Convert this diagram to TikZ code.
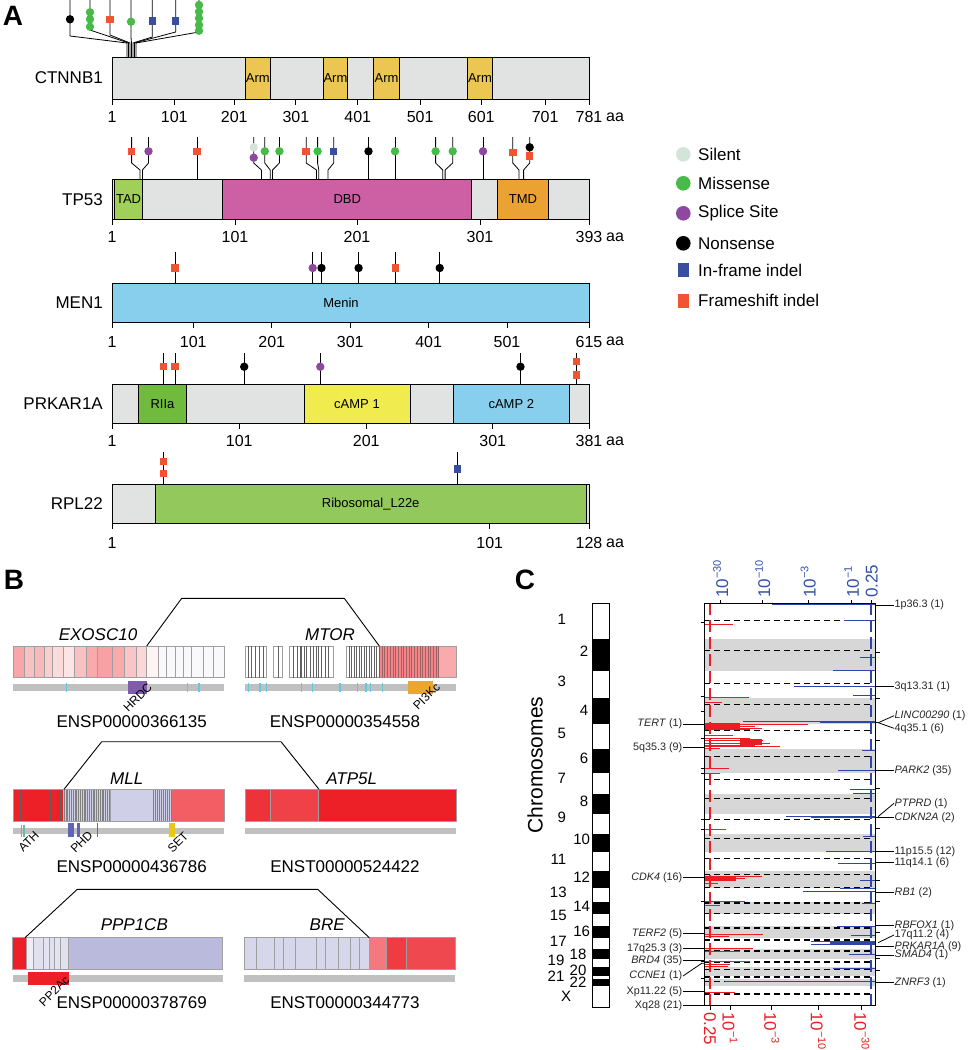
\documentclass[tikz,border=0pt]{standalone}
\usepackage{fontspec}
\setmainfont{Liberation Sans}
\usetikzlibrary{positioning}

\newcommand{\panfont}{\fontsize{28pt}{30pt}\selectfont\bfseries}
\newcommand{\labfont}{\fontsize{17pt}{19pt}\selectfont}
\newcommand{\numfont}{\fontsize{16pt}{18pt}\selectfont}
\newcommand{\domfont}{\fontsize{13pt}{15pt}\selectfont}
\newcommand{\rotfont}{\fontsize{12pt}{14pt}\selectfont}
\newcommand{\cfont}{\fontsize{10.8pt}{12pt}\selectfont}
\newcommand{\chrfont}{\fontsize{15pt}{17pt}\selectfont}
\newcommand{\axfont}{\fontsize{17pt}{19pt}\selectfont}
\newcommand{\pw}[1]{10\raisebox{0.42em}{\fontsize{11pt}{12pt}\selectfont #1}}

\begin{document}
\begin{tikzpicture}[x=1pt,y=-1pt,
  barline/.style={draw=black, line width=0.9pt},
  tickline/.style={black, line width=0.9pt},
  stemline/.style={black, line width=0.8pt},
  genelab/.style={font=\labfont, anchor=east, inner sep=1pt},
  numlab/.style={font=\numfont, inner sep=0pt},
  domlab/.style={font=\domfont, inner sep=0pt},
  dot/.style={circle, inner sep=0pt, minimum size=8.4pt},
  sq/.style={rectangle, inner sep=0pt, minimum width=7.5pt, minimum height=7.5pt},
  silentm/.style={dot, fill=silentc},
  missm/.style={dot, fill=missc},
  splicem/.style={dot, fill=splicec},
  nonsm/.style={dot, fill=black},
  inframe/.style={sq, fill=inframec},
  frameshift/.style={sq, fill=fsc},
  legtext/.style={font=\labfont, anchor=west, inner sep=0pt},
  exbox/.style={draw=gray!75, line width=0.6pt},
  exline/.style={gray!75!black, line width=0.45pt},
  fusion/.style={black, line width=0.9pt},
  isolab/.style={font=\labfont, inner sep=0pt},
  rotlab/.style={font=\rotfont, rotate=45, anchor=east, inner sep=0pt},
  cutdash/.style={black, line width=1.4pt, dash pattern=on 6pt off 4pt},
  ampline/.style={ampred, line width=0.9pt},
  delline/.style={delblue, line width=0.9pt},
  clab/.style={font=\cfont, text=black!85, inner sep=0.5pt},
  conn/.style={black, line width=0.8pt},
  toplab/.style={font=\axfont, text=axblue, rotate=90, anchor=west, inner sep=0pt},
  botlab/.style={font=\axfont, text=ampred, rotate=-90, anchor=west, inner sep=0pt}]

% Define colors
\definecolor{protgray}{RGB}{225,226,226}
\definecolor{armc}{RGB}{236,198,82}
\definecolor{tadc}{RGB}{160,207,90}
\definecolor{dbdc}{RGB}{205,95,165}
\definecolor{tmdc}{RGB}{234,162,50}
\definecolor{meninc}{RGB}{135,207,236}
\definecolor{riiac}{RGB}{112,186,62}
\definecolor{campyc}{RGB}{240,236,80}
\definecolor{ribc}{RGB}{146,200,92}
\definecolor{silentc}{RGB}{212,228,218}
\definecolor{missc}{RGB}{72,186,74}
\definecolor{splicec}{RGB}{142,72,160}
\definecolor{inframec}{RGB}{58,78,160}
\definecolor{fsc}{RGB}{240,84,48}
\definecolor{exred}{RGB}{237,32,40}
\definecolor{lav}{RGB}{186,186,220}
\definecolor{lavlt}{RGB}{215,215,235}
\definecolor{domgray}{RGB}{192,192,192}
\definecolor{cyanc}{RGB}{100,200,222}
\definecolor{hrdcc}{RGB}{128,92,172}
\definecolor{pikc}{RGB}{235,165,50}
\definecolor{athc}{RGB}{100,190,160}
\definecolor{phdc}{RGB}{100,100,182}
\definecolor{setc}{RGB}{232,200,30}
\definecolor{axblue}{RGB}{50,80,170}
\definecolor{delblue}{RGB}{45,70,170}
\definecolor{ampred}{RGB}{237,28,36}
\definecolor{bandgray}{RGB}{215,215,215}

\useasboundingbox (0,0) rectangle (967,1050);

% Panel letters
\node[font=\panfont] (pa) at (13,16) {A};
\node[font=\panfont] (pb) at (14,580) {B};
\node[font=\panfont] (pc) at (525,580) {C};

%%%%%%%%%%%%%%%% A %%%%%%%%%%%%%%%%

% CTNNB1
\fill[protgray] (112,57.3) rectangle (589,99);
\foreach \a/\b in {245.3/270.2, 323.4/347.5, 373.9/399.2, 467.7/492.2} {
  \draw[barline, fill=armc] (\a,57.3) rectangle (\b,99);
  \node[domlab] at ({(\a+\b)/2},78) {Arm};
}
\draw[barline] (112,57.3) rectangle (589,99);
\node[genelab] (ctnnb) at (104,78) {CTNNB1};
\foreach \t/\l in {112/1, 174.3/101, 234.3/201, 295.9/301, 357.8/401, 420.1/501, 481.3/601, 545.1/701, 589/781} {
  \draw[tickline] (\t,99) -- (\t,104.5);
  \node[numlab] at (\t,117) {\l};
}
\node[numlab, anchor=west] at (606,117) {aa};
\foreach \xm/\yb/\xc in {70/36/127, 90/30/128.5, 110/35/130, 131/37/131.5, 152.3/37/133, 175.7/32/134.5, 199/32/136}
  \draw[stemline] (\xm,0) -- (\xm,\yb) -- (\xc,43) -- (\xc,57.3);
\node[nonsm] at (70,19.3) {};
\foreach \y in {12.3,19.3,26.7} \node[missm] at (90,\y) {};
\node[frameshift] at (110,19.3) {};
\node[missm] at (131,21.7) {};
\node[inframe] at (152.3,21) {};
\node[inframe] at (175.7,21) {};
\foreach \y in {5,11.7,18.3,25,30.7} \node[missm] at (199,\y) {};

% TP53
\fill[protgray] (112,179.3) rectangle (589,219);
\draw[barline, fill=tadc] (114.8,179.3) rectangle (142.4,219);
\draw[barline, fill=dbdc] (222.7,179.3) rectangle (471.9,219);
\draw[barline, fill=tmdc] (497.5,179.3) rectangle (548.4,219);
\draw[barline] (112,179.3) rectangle (589,219);
\node[domlab] at (128.6,199.3) {TAD};
\node[domlab] at (347.3,199.3) {DBD};
\node[domlab] at (523,199.3) {TMD};
\node[genelab] (tp53) at (104,199.3) {TP53};
\foreach \t/\l in {112/1, 235/101, 357/201, 480/301, 589/393} {
  \draw[tickline] (\t,219) -- (\t,224.5);
  \node[numlab] at (\t,237) {\l};
}
\node[numlab, anchor=west] at (606,237) {aa};
\foreach \xm in {197,368.5,395,483} \draw[stemline] (\xm,137) -- (\xm,179.3);
\foreach \xm/\xc in {131.6/140, 148.5/142.4, 253.7/261.4, 264.8/270.2, 279.4/272.5, 306.2/316.5, 317.6/318.8, 333.7/328, 435.6/442.8, 452.7/445.1, 512.8/519, 529.7/523.6}
  \draw[stemline] (\xm,137) -- (\xm,163) -- (\xc,170) -- (\xc,179.3);
\node[frameshift] at (131.6,151.3) {};
\node[splicem] at (148.5,151.3) {};
\node[frameshift] at (197,151.3) {};
\node[silentm] at (253.7,147.3) {};
\node[splicem] at (253.7,157.7) {};
\node[missm] at (264.8,151.3) {};
\node[missm] at (279.4,151.3) {};
\node[frameshift] at (306.2,151.3) {};
\node[missm] at (317.6,151.3) {};
\node[inframe] at (333.7,151.3) {};
\node[nonsm] at (368.5,151.3) {};
\node[missm] at (395,151.3) {};
\node[missm] at (435.6,151.3) {};
\node[missm] at (452.7,151.3) {};
\node[splicem] at (483,151.3) {};
\node[frameshift] at (512.8,152.3) {};
\node[nonsm] at (529.7,147.3) {};
\node[frameshift] at (529.7,156) {};

% MEN1
\draw[barline, fill=meninc] (112,283.3) rectangle (589,322.5);
\node[domlab] at (341,303) {Menin};
\node[genelab] (men1) at (104,303) {MEN1};
\foreach \t/\l in {112/1, 193.3/101, 271.7/201, 350.2/301, 428.6/401, 507/501, 589/615} {
  \draw[tickline] (\t,322.5) -- (\t,328);
  \node[numlab] at (\t,341.5) {\l};
}
\node[numlab, anchor=west] at (606,341.5) {aa};
\foreach \xm in {175,312.7,321.5,358.6,395.3,439.7} \draw[stemline] (\xm,251.7) -- (\xm,283.3);
\node[frameshift] at (175,268) {};
\node[splicem] at (312.7,268) {};
\node[nonsm] at (321.5,268) {};
\node[nonsm] at (358.6,268) {};
\node[frameshift] at (395.3,268) {};
\node[nonsm] at (439.7,268) {};

% PRKAR1A
\fill[protgray] (112,384.3) rectangle (589,423);
\draw[barline, fill=riiac] (138.5,384.3) rectangle (186.4,423);
\draw[barline, fill=campyc] (304.2,384.3) rectangle (410.3,423);
\draw[barline, fill=meninc] (453.5,384.3) rectangle (569.1,423);
\draw[barline] (112,384.3) rectangle (589,423);
\node[domlab] at (162.5,403.6) {RIIa};
\node[domlab] at (357,403.6) {cAMP 1};
\node[domlab] at (511.3,403.6) {cAMP 2};
\node[genelab] (prkar) at (104,403.6) {PRKAR1A};
\foreach \t/\l in {112/1, 239.3/101, 366.2/201, 492.7/301, 589/381} {
  \draw[tickline] (\t,423) -- (\t,428.5);
  \node[numlab] at (\t,441) {\l};
}
\node[numlab, anchor=west] at (606,441) {aa};
\foreach \xm in {163.4,175,244.2,320.3,520.5,576.7} \draw[stemline] (\xm,353) -- (\xm,384.3);
\node[frameshift] at (163.4,366.7) {};
\node[frameshift] at (175,366.7) {};
\node[nonsm] at (244.2,366.7) {};
\node[splicem] at (320.3,366.7) {};
\node[nonsm] at (520.5,366.7) {};
\node[frameshift] at (576.7,361.7) {};
\node[frameshift] at (576.7,375) {};

% RPL22
\fill[protgray] (112,484.3) rectangle (589,523.5);
\draw[barline, fill=ribc] (155,484.3) rectangle (586.4,523.5);
\draw[barline] (112,484.3) rectangle (589,523.5);
\node[domlab] at (370.7,504) {Ribosomal\_L22e};
\node[genelab] (rpl22) at (104,504) {RPL22};
\foreach \t/\l in {112/1, 489.7/101, 589/128} {
  \draw[tickline] (\t,523.5) -- (\t,529);
  \node[numlab] at (\t,543) {\l};
}
\node[numlab, anchor=west] at (606,543) {aa};
\foreach \xm in {163.4,457.7} \draw[stemline] (\xm,451.7) -- (\xm,484.3);
\node[frameshift] at (163.4,461.7) {};
\node[frameshift] at (163.4,473.3) {};
\node[inframe] at (457.7,469) {};

% Legend
\foreach \c/\y/\t in {silentc/154.3/Silent, missc/183.3/Missense, splicec/213.3/Splice Site, black/243.3/Nonsense} {
  \node[circle, fill=\c, inner sep=0pt, minimum size=14.6pt] at (683.3,\y) {};
  \node[legtext] at (698,\y) {\t};
}
\foreach \c/\y/\t in {inframec/270/In-frame indel, fsc/300.7/Frameshift indel} {
  \node[rectangle, fill=\c, inner sep=0pt, minimum width=10.7pt, minimum height=14pt] at (683.3,\y) {};
  \node[legtext] at (698,\y) {\t};
}

%%%%%%%%%%%%%%%% B %%%%%%%%%%%%%%%%

% EXOSC10 - MTOR
\foreach \a/\b/\p in {13.3/24/40, 24/34.3/28, 34.3/44.3/32, 44.3/52.7/22, 52.7/63.3/16, 63.3/74/12, 74/86/28, 86/97.7/38, 97.7/112.7/42, 112.7/124/38, 124/136/26, 136/146.7/18, 146.7/158.3/5}
  \draw[exbox, fill=exred!\p!white] (\a,646) rectangle (\b,677.7);
\foreach \a/\b in {158.3/166.7, 166.7/175, 175/183.3, 183.3/191.7, 191.7/203.3, 203.3/213.3, 213.3/224}
  \draw[exbox, fill=lav!8!white] (\a,646) rectangle (\b,677.7);
\fill[domgray] (13.3,684.3) rectangle (224,690.7);
\foreach \x in {66.7,187.7,199} \draw[cyanc, line width=1.2pt] (\x,683) -- (\x,692);
\fill[hrdcc] (127.7,681) rectangle (146.7,694);
\node[rotlab] (hrdc) at (150,685) {HRDC};
\node[isolab] (exosc) at (98,634.3) {\textit{EXOSC10}};
\node[isolab] (exid) at (131.7,722) {ENSP00000366135};

\foreach \a/\b in {245/266.7, 273.3/282.7, 289.3/333.3}
  \draw[exbox, fill=white] (\a,646) rectangle (\b,677.7);
\fill[exred!55!white] (379.3,646) rectangle (439.3,677.7);
\fill[exred!38!white] (439.3,646) rectangle (456,677.7);
\draw[exbox] (346.7,646) rectangle (456,677.7);
\foreach \x in {248.3,251.7,255,259.3,263.3,278.3,293.3,297.7,300,301.7,304,306.7,310,313.3,316,318.3,321.7,325,328.3}
  \draw[exline] (\x,646) -- (\x,677.7);
\foreach \x in {349.2,351.7,...,379.3} \draw[exline] (\x,646) -- (\x,677.7);
\foreach \x in {382,384.7,...,439.3} \draw[exline, gray!70!exred] (\x,646) -- (\x,677.7);
\fill[domgray] (245,684.3) rectangle (456,690.7);
\foreach \x in {248.3,260,266.7,301.7,312.7,340,357.3,366,370.7,382.7} \draw[cyanc, line width=1.2pt] (\x,683) -- (\x,692);
\fill[pikc] (408.3,681) rectangle (433.3,694);
\node[rotlab] (pikl) at (438,685) {PI3Kc};
\node[isolab] (mtor) at (330,634.3) {\textit{MTOR}};
\node[isolab] (mtid) at (345,722) {ENSP00000354558};
\coordinate (exbrk) at (146.7,646);
\coordinate (mtbrk) at (379.3,646);
\draw[fusion] (exbrk) -- (181.7,598.3) -- (344.3,598.3) -- (mtbrk);

% MLL - ATP5L
\fill[exred] (13.3,789.3) rectangle (63.3,821);
\fill[lav!70!white] (63.3,789.3) rectangle (171.7,821);
\fill[exred!72!white] (171.7,789.3) rectangle (224,821);
\foreach \x in {20.7,50,53,55.5,57,60} \draw[exline] (\x,789.3) -- (\x,821);
\foreach \x in {64,65.8,...,109.6} \draw[exline, gray] (\x,789.3) -- (\x,821);
\foreach \x in {153.3,155.3,...,171.3} \draw[exline, gray] (\x,789.3) -- (\x,821);
\draw[exbox] (13.3,789.3) rectangle (224,821);
\draw[exbox] (110,789.3) -- (110,821);
\fill[domgray] (13.3,827.7) rectangle (224,834.3);
\foreach \x in {21.5,23,24.5} \draw[athc, line width=0.8pt] (\x,825) -- (\x,837);
\fill[phdc] (67.7,823) rectangle (74,836.7);
\fill[phdc] (76.7,823) rectangle (80,836.7);
\draw[phdc, line width=0.9pt] (97.3,823) -- (97.3,836.7);
\fill[setc] (169,823) rectangle (175,836.7);
\node[rotlab] (athl) at (37,833) {ATH};
\node[rotlab] (phdl) at (90.7,833) {PHD};
\node[rotlab] (setl) at (186.3,834) {SET};
\node[isolab] (mll) at (126.7,778.3) {\textit{MLL}};
\node[isolab] (mllid) at (131.7,867) {ENSP00000436786};

\draw[exbox, fill=exred!92!white] (245,789.3) rectangle (270,821);
\draw[exbox, fill=exred!85!white] (270,789.3) rectangle (318.3,821);
\draw[exbox, fill=exred] (318.3,789.3) rectangle (456,821);
\fill[domgray] (245,827.7) rectangle (456,834.3);
\node[isolab] (atp) at (351.7,778.3) {\textit{ATP5L}};
\node[isolab] (atpid) at (345,867) {ENST00000524422};
\coordinate (mllbrk) at (64,789.3);
\coordinate (atpbrk) at (319,789.3);
\draw[fusion] (mllbrk) -- (101.7,741.7) -- (281,741.7) -- (atpbrk);

% PPP1CB - BRE
\draw[exbox, fill=exred] (12.7,937.7) rectangle (26,969);
\foreach \a/\b/\p in {26/33.3/25, 33.3/43.3/45, 43.3/49.3/40, 49.3/54/45, 54/60.7/40, 60.7/68.3/45}
  \draw[exbox, fill=lav!\p!white] (\a,937.7) rectangle (\b,969);
\draw[exbox, fill=lav] (68.3,937.7) rectangle (222.7,969);
\fill[domgray] (12.7,975) rectangle (222.7,981.7);
\fill[exred] (28.3,971.7) rectangle (69,985);
\node[rotlab] (ppl) at (67.3,978) {PP2Ac};
\node[isolab] (ppp) at (134.3,925) {\textit{PPP1CB}};
\node[isolab] (pppid) at (131.7,1003) {ENSP00000378769};

\foreach \a/\b in {244.3/256.7, 256.7/274, 274/283.3, 283.3/295, 295/316.7, 316.7/325.7, 325.7/338.3, 338.3/350, 350/359, 359/369.3}
  \draw[exbox, fill=lavlt] (\a,937.7) rectangle (\b,969);
\draw[exbox, fill=exred!60!white] (369.3,937.7) rectangle (386,969);
\draw[exbox, fill=exred!88!white] (386,937.7) rectangle (406,969);
\draw[exbox, fill=exred!82!white] (406,937.7) rectangle (455,969);
\fill[domgray] (244.3,975) rectangle (455,981.7);
\node[isolab] (bre) at (327.3,925) {\textit{BRE}};
\node[isolab] (breid) at (345,1003) {ENST00000344773};
\coordinate (pppbrk) at (25,937.7);
\coordinate (brebrk) at (369.3,937.7);
\draw[fusion] (pppbrk) -- (77.3,889.3) -- (317.7,889.3) -- (brebrk);

%%%%%%%%%%%%%%%% C %%%%%%%%%%%%%%%%

% Chromosome ideogram and bands
\foreach \a/\b in {639/671, 697.7/724.3, 749/772.7, 794.3/814, 834/851.7, 871/887.7, 901.7/914, 925.7/937.7, 949/959, 967.3/976, 979.3/985.7} {
  \fill[black] (592.7,\a) rectangle (609.3,\b);
  \fill[bandgray] (704.3,\a) rectangle (875.7,\b);
}
\draw[black, line width=1.3pt] (592.7,603.3) rectangle (609.3,1007.3);
\foreach \l/\x/\y in {1/561.7/619, 2/584/651.7, 3/561.7/681.7, 4/584/710, 5/561.7/733.3, 6/584/758.3, 7/561.7/778.3, 8/584/801.7, 9/561.7/817.7, 10/581.7/839.3, 11/558.3/859, 12/581.7/877.7, 13/558.3/892.7, 14/581.7/906.7, 15/558.3/915.7, 16/581.7/931, 17/558.3/941, 18/578/954, 19/556/960.7, 20/578/970, 21/556/976.7, 22/578/982.7, X/566/996}
  \node[font=\chrfont, inner sep=0pt] (chr\l) at (\x,\y) {\l};
\node[font=\fontsize{21pt}{23pt}\selectfont, rotate=90] (chrlab) at (535,765) {Chromosomes};

% Chromosome centre lines
\foreach \y in {620.7,650.7,683.3,704.3,730.7,756.7,779.3,798.3,819.3,838.3,858.3,874.3,887.7,903,913.5,928,940,951,962,969.5,977,981.5,994}
  \draw[cutdash] (704.3,\y) -- (873,\y);

% Amplification peaks
\foreach \y/\e in {624/733.3, 697.3/749.3, 702.3/722.3, 724/808, 726/755, 728/762, 729.5/750, 735/733, 738.3/750, 740/763, 743.3/770, 745/755, 746.7/780, 748.3/720, 768.3/729.3, 773/720, 829/726, 876.7/761.7, 878.3/745, 880/735, 883/718, 901.7/745, 905/720, 934.3/763.3, 936.7/729.3, 948.3/753.3, 951.7/740, 961.7/750, 964/730, 966.7/728, 992.7/735, 1005/755}
  \draw[ampline] (704.3,\y) -- (\e,\y);
\fill[ampred] (704.3,722.7) rectangle (740,730);
\fill[ampred] (740,739.3) rectangle (761.7,745);
\fill[ampred] (704.3,875.5) rectangle (736,880.5);

% Deletion peaks
\foreach \y/\s in {604.5/771.7, 620/844, 657.3/860, 670/833.3, 686.7/794.3, 695/853.3, 721.7/743, 750/861.7, 770.7/837.7, 789.3/850, 793.3/853.3, 816/786, 836/863.3, 851.7/826, 863.3/838.3, 880/860, 888.3/840, 891.7/802.7, 903.3/861.7, 926/836.7, 935/851, 941.7/810.7, 944/810.7, 954.3/849.3, 968.3/833.3, 981.7/725}
  \draw[delline] (875.7,\y) -- (\s,\y);
\draw[delblue, line width=2pt] (875.7,722.3) -- (820,722.3);
\draw[delblue, line width=2pt] (875.7,816.7) -- (810.7,816.7);
\draw[delblue, line width=1.8pt] (875.7,942.8) -- (830,942.8);

% Significance thresholds
\draw[ampred, line width=1.5pt, dash pattern=on 12pt off 5pt] (710,603.3) -- (710,1005.7);
\draw[delblue, line width=1.5pt, dash pattern=on 12pt off 5pt] (871,603.3) -- (871,1005.7);

% Plot frame and axes
\draw[black, line width=1.2pt] (704.3,603.3) rectangle (875.7,1005.7);
\foreach \x in {720.7,762.7,808.3,851.7,871.7} \draw[black, line width=1pt] (\x,603.3) -- (\x,599.5);
\foreach \x in {710,730,771.7,818.3,861.7} \draw[black, line width=1pt] (\x,1005.7) -- (\x,1009.5);
\foreach \y in {622,696.7,711.7,738,768,773,819,829,877,901.7,933,948,961,978} \draw[black, line width=0.9pt] (700.5,\y) -- (704.3,\y);
\foreach \y in {652,698,740,788,817,828,880,901,932,946,958,970} \draw[black, line width=0.9pt] (875.7,\y) -- (879.5,\y);
\foreach \x/\t in {720.7/\pw{−30}, 762.7/\pw{−10}, 808.3/\pw{−3}, 851.7/\pw{−1}, 871.7/0.25}
  \node[toplab] at (\x,598) {\t};
\foreach \x/\t in {710/0.25, 730/\pw{−1}, 771.7/\pw{−3}, 818.3/\pw{−10}, 861.7/\pw{−30}}
  \node[botlab] at (\x,1012) {\t};

% Peak labels, left
\foreach \y/\t [count=\i] in {724/\textit{TERT} (1), 747.7/5q35.3 (9), 877.3/\textit{CDK4} (16), 933.3/\textit{TERF2} (5), 948.3/17q25.3 (3), 960.7/\textit{BRD4} (35), 991.7/Xp11.22 (5), 1005.7/Xq28 (21)} {
  \node[clab, anchor=east] (lp\i) at (683,\y) {\t};
  \coordinate (le\i) at (704.3,\y);
  \draw[conn] (lp\i.east) -- (le\i);
}
\node[clab, anchor=east] (ccne) at (683,976) {\textit{CCNE1} (1)};
\coordinate (ccnepk) at (704.3,963.3);
\draw[conn] (ccne.east) -- (701.7,963.3) -- (ccnepk);

% Peak labels, right
\foreach \y/\t [count=\i] in {605/1p36.3 (1), 686.7/3q13.31 (1), 770.5/\textit{PARK2} (35), 817.3/\textit{CDKN2A} (2), 851.2/11p15.5 (12), 862.5/11q14.1 (6), 892.7/\textit{RB1} (2), 925.7/\textit{RBFOX1} (1), 946.7/\textit{PRKAR1A} (9), 955/\textit{SMAD4} (1), 982.7/\textit{ZNRF3} (1)} {
  \node[clab, anchor=west] (rp\i) at (894,\y) {\t};
  \coordinate (re\i) at (875.7,\y);
  \draw[conn] (re\i) -- (rp\i.west);
}
\coordinate (fan4) at (878.3,722.7);
\node[clab, anchor=west] (linc) at (894,715.7) {\textit{LINC00290} (1)};
\node[clab, anchor=west] (q4) at (894,728.3) {4q35.1 (6)};
\draw[conn] (875.7,722.7) -- (fan4);
\draw[conn] (fan4) -- (linc.west);
\draw[conn] (fan4) -- (q4.west);
\coordinate (fan9) at (878,816.7);
\node[clab, anchor=west] (ptprd) at (894,803.3) {\textit{PTPRD} (1)};
\draw[conn] (fan9) -- (ptprd.west);
\coordinate (fan17) at (878,942.7);
\node[clab, anchor=west] (q17) at (894,935) {17q11.2 (4)};
\draw[conn] (fan17) -- (q17.west);

\end{tikzpicture}
\end{document}
